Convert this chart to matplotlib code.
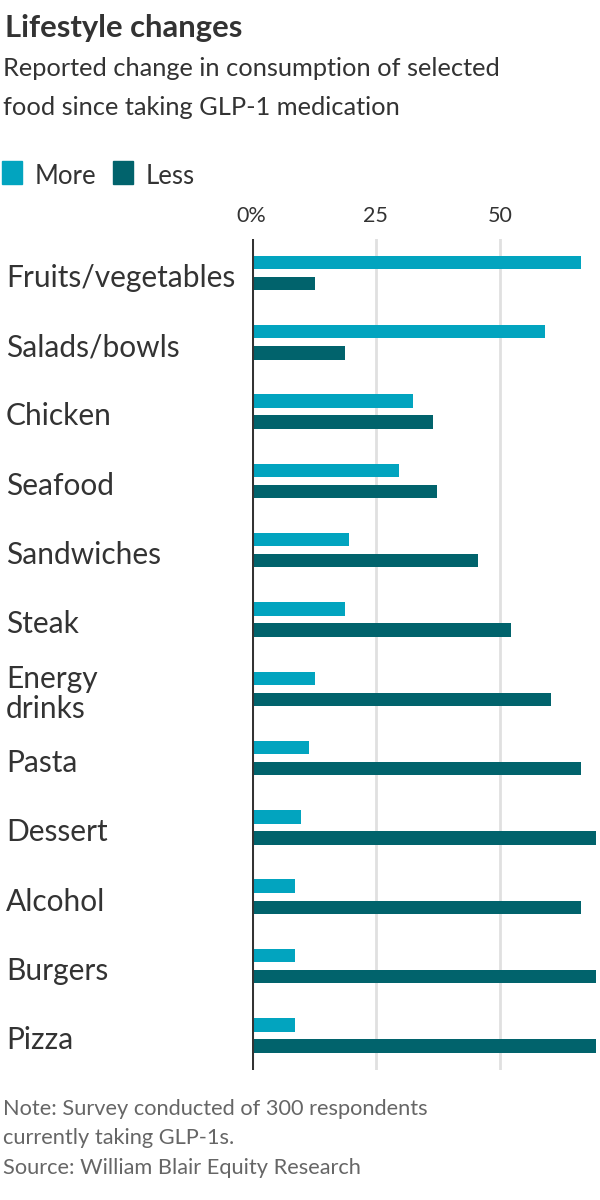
import matplotlib.pyplot as plt
from matplotlib import transforms

plt.rcParams['font.family'] = ['Lato', 'DejaVu Sans']

categories = ['Fruits/vegetables', 'Salads/bowls', 'Chicken', 'Seafood',
              'Sandwiches', 'Steak', 'Energy\ndrinks', 'Pasta', 'Dessert',
              'Alcohol', 'Burgers', 'Pizza']
more = [66.4, 59.1, 32.6, 29.7, 19.6, 18.9, 12.8, 11.6, 9.9, 8.7, 8.7, 8.7]
less = [12.8, 18.8, 36.6, 37.4, 45.6, 52.3, 60.4, 66.4, 72, 66.4, 72, 72]
ticks = [0, 25, 50]
tick_labels = ['0%', '25', '50']

MORE_C = '#02a4bf'
LESS_C = '#01636c'
W, H = 600, 1200


def fy(px):
    return 1 - px / H


fig = plt.figure(figsize=(6, 12), dpi=100)
ax = fig.add_axes([251.7 / W, fy(1070), (596 - 251.7) / W, (1070 - 239) / H])

ys = list(range(len(categories)))
off = 0.152
ax.barh([y - off for y in ys], more, height=0.195, color=MORE_C, zorder=3)
ax.barh([y + off for y in ys], less, height=0.195, color=LESS_C, zorder=3)

ax.set_xlim(0, 69.4)
ax.set_ylim(11.5, -0.49)
for t in ticks[1:]:
    ax.axvline(t, color='#e0e0e0', lw=2, zorder=1)
ax.axvline(0, color='#333333', lw=2.2, zorder=4)

ax.xaxis.tick_top()
ax.set_xticks(ticks)
ax.set_xticklabels(tick_labels, fontsize=15.5, color='#333333')
ax.tick_params(axis='x', length=0, pad=9)
ax.set_yticks([])
for s in ax.spines.values():
    s.set_visible(False)

# category labels at the left edge of the figure
trans = transforms.blended_transform_factory(fig.transFigure, ax.transData)
for y, cat in zip(ys, categories):
    ax.text(6 / W, y + 0.07, cat, transform=trans, ha='left', va='center',
            fontsize=21.5, color='#333333', linespacing=1.08, clip_on=False)

# title block
fig.text(5 / W, fy(37), 'Lifestyle changes', fontsize=22.3, fontweight='bold',
         color='#333333', va='baseline')
fig.text(3 / W, fy(76), 'Reported change in consumption of selected',
         fontsize=18.3, color='#333333', va='baseline')
fig.text(3 / W, fy(115), 'food since taking GLP-1 medication',
         fontsize=18.3, color='#333333', va='baseline')

# legend
for x0, lab, col, tx in [(2, 'More', MORE_C, 35), (113, 'Less', LESS_C, 146)]:
    fig.patches.append(plt.Rectangle((x0 / W, fy(184)), 20 / W, 23 / H,
                                     transform=fig.transFigure, color=col))
    fig.text(tx / W, fy(184), lab, fontsize=18.5, color='#333333',
             va='baseline')

# footer
foot = '#666666'
fig.text(3 / W, fy(1115), 'Note: Survey conducted of 300 respondents',
         fontsize=15.7, color=foot, va='baseline')
fig.text(3 / W, fy(1144), 'currently taking GLP-1s.',
         fontsize=15.7, color=foot, va='baseline')
fig.text(3 / W, fy(1174), 'Source: William Blair Equity Research',
         fontsize=15.7, color=foot, va='baseline')

plt.savefig('out.png', dpi=100)
